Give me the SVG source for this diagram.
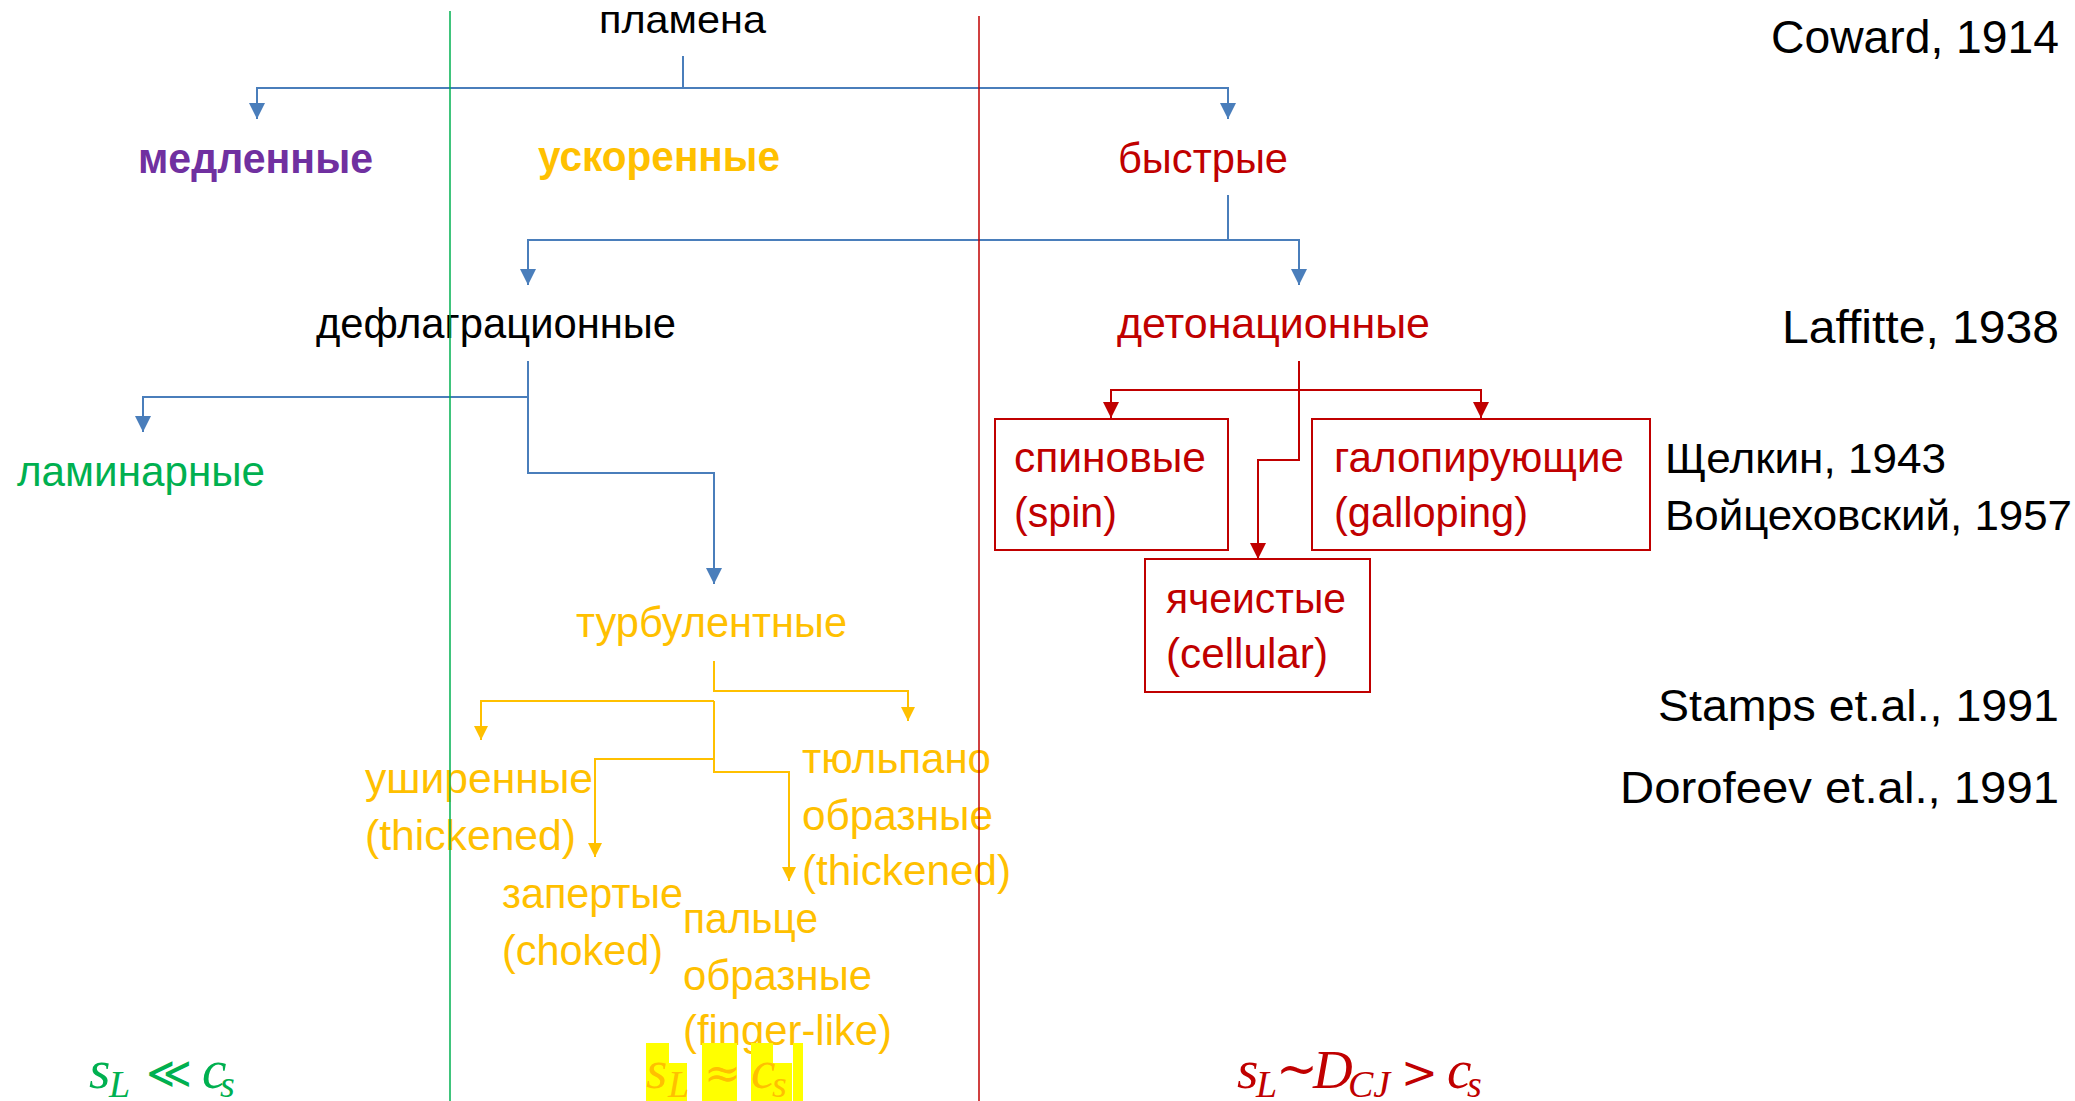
<svg xmlns="http://www.w3.org/2000/svg" width="2075" height="1101" viewBox="0 0 2075 1101">
<defs>
<style>
.t{font-family:"Liberation Sans",Arial,sans-serif;font-size:42px}
.b{font-weight:bold}
.blk{fill:#000}
.red{fill:#C00000}
.gold{fill:#FFC000}
.grn{fill:#00B050}
.pur{fill:#7030A0}
.m{font-family:"Liberation Serif","DejaVu Serif",serif;font-style:italic;font-size:55px}
.sub{font-size:38px}
.op{font-family:"DejaVu Serif","Liberation Serif",serif;font-style:normal;font-size:44px}
.cb{fill:none;stroke:#4A7EBB;stroke-width:2}
.cr{fill:none;stroke:#C00000;stroke-width:2}
.cg{fill:none;stroke:#FFC000;stroke-width:2}
.box{fill:none;stroke:#C00000;stroke-width:2}
</style>
<marker id="ab" viewBox="0 0 16 16" refX="16" refY="8" markerWidth="16" markerHeight="16" markerUnits="userSpaceOnUse" orient="auto"><path d="M0,0 L16,8 L0,16 Z" fill="#4A7EBB"/></marker>
<marker id="ar" viewBox="0 0 16 16" refX="16" refY="8" markerWidth="16" markerHeight="16" markerUnits="userSpaceOnUse" orient="auto"><path d="M0,0 L16,8 L0,16 Z" fill="#C00000"/></marker>
<marker id="ag" viewBox="0 0 16 16" refX="16" refY="8" markerWidth="14" markerHeight="14" markerUnits="userSpaceOnUse" orient="auto"><path d="M0,0 L16,8 L0,16 Z" fill="#FFC000"/></marker>
</defs>
<rect width="2075" height="1101" fill="#fff"/>

<g id="connectors">
<path class="cb" d="M683,56 V88 H257 V119" marker-end="url(#ab)"/>
<path class="cb" d="M683,88 H1228 V119" marker-end="url(#ab)"/>
<path class="cb" d="M1228,195 V240 H528 V285" marker-end="url(#ab)"/>
<path class="cb" d="M1228,240 H1299 V285" marker-end="url(#ab)"/>
<path class="cb" d="M528,361 V397 H143 V432" marker-end="url(#ab)"/>
<path class="cb" d="M528,397 V473 H714 V584" marker-end="url(#ab)"/>
<path class="cr" d="M1299,361 V390 H1111 V418" marker-end="url(#ar)"/>
<path class="cr" d="M1299,390 H1481 V418" marker-end="url(#ar)"/>
<path class="cr" d="M1299,390 V460 H1258 V559" marker-end="url(#ar)"/>
<path class="cg" d="M714,661 V691 H908 V721" marker-end="url(#ag)"/>
<path class="cg" d="M714,701 H481 V740" marker-end="url(#ag)"/>
<path class="cg" d="M714,701 V759 H595 V857" marker-end="url(#ag)"/>
<path class="cg" d="M714,759 V772 H789 V881" marker-end="url(#ag)"/>
</g>

<g id="plamena"><text class="t blk" x="599" y="33" style="font-size:39px" textLength="167" lengthAdjust="spacingAndGlyphs">пламена</text></g>
<g id="medlennye"><text class="t b pur" x="138" y="173" style="font-size:43px" textLength="235" lengthAdjust="spacingAndGlyphs">медленные</text></g>
<g id="uskorennye"><text class="t b gold" x="538" y="171" style="font-size:43px" textLength="242" lengthAdjust="spacingAndGlyphs">ускоренные</text></g>
<g id="bystrye"><text class="t red" x="1118" y="173" textLength="170" lengthAdjust="spacingAndGlyphs">быстрые</text></g>
<g id="deflagr"><text class="t blk" x="316" y="338" textLength="360" lengthAdjust="spacingAndGlyphs">дефлаграционные</text></g>
<g id="deton"><text class="t red" x="1117" y="338" textLength="313" lengthAdjust="spacingAndGlyphs">детонационные</text></g>
<g id="laminar"><text class="t grn" x="17" y="486" textLength="248" lengthAdjust="spacingAndGlyphs">ламинарные</text></g>
<g id="turbul"><text class="t gold" x="576" y="637" textLength="271" lengthAdjust="spacingAndGlyphs">турбулентные</text></g>
<g id="ushir">
<text class="t gold" x="365" y="793" textLength="228" lengthAdjust="spacingAndGlyphs">уширенные</text>
<text class="t gold" x="365" y="850" textLength="211" lengthAdjust="spacingAndGlyphs">(thickened)</text>
</g>
<g id="tulpan">
<text class="t gold" x="802" y="773" textLength="189" lengthAdjust="spacingAndGlyphs">тюльпано</text>
<text class="t gold" x="802" y="830" textLength="191" lengthAdjust="spacingAndGlyphs">образные</text>
<text class="t gold" x="802" y="885" textLength="209" lengthAdjust="spacingAndGlyphs">(thickened)</text>
</g>
<g id="zapert">
<text class="t gold" x="502" y="908" textLength="181" lengthAdjust="spacingAndGlyphs">запертые</text>
<text class="t gold" x="502" y="965" textLength="161" lengthAdjust="spacingAndGlyphs">(choked)</text>
</g>
<g id="palce">
<text class="t gold" x="683" y="933" textLength="135" lengthAdjust="spacingAndGlyphs">пальце</text>
<text class="t gold" x="683" y="990" textLength="189" lengthAdjust="spacingAndGlyphs">образные</text>
<text class="t gold" x="683" y="1045" textLength="209" lengthAdjust="spacingAndGlyphs">(finger-like)</text>
</g>
<g id="spin">
<rect class="box" x="995" y="419" width="233" height="131"/>
<text class="t red" x="1014" y="472" textLength="192" lengthAdjust="spacingAndGlyphs">спиновые</text>
<text class="t red" x="1014" y="527" textLength="103" lengthAdjust="spacingAndGlyphs">(spin)</text>
</g>
<g id="gallop">
<rect class="box" x="1312" y="419" width="338" height="131"/>
<text class="t red" x="1334" y="472" textLength="290" lengthAdjust="spacingAndGlyphs">галопирующие</text>
<text class="t red" x="1334" y="527" textLength="194" lengthAdjust="spacingAndGlyphs">(galloping)</text>
</g>
<g id="cellular">
<rect class="box" x="1145" y="559" width="225" height="133"/>
<text class="t red" x="1166" y="613" textLength="180" lengthAdjust="spacingAndGlyphs">ячеистые</text>
<text class="t red" x="1166" y="668" textLength="162" lengthAdjust="spacingAndGlyphs">(cellular)</text>
</g>

<g id="refs">
<text class="t blk" x="1771" y="53" style="font-size:46px" textLength="288" lengthAdjust="spacingAndGlyphs">Coward, 1914</text>
<text class="t blk" x="1782" y="343" style="font-size:46px" textLength="277" lengthAdjust="spacingAndGlyphs">Laffitte, 1938</text>
<text class="t blk" x="1665" y="473" textLength="281" lengthAdjust="spacingAndGlyphs">Щелкин, 1943</text>
<text class="t blk" x="1665" y="530" textLength="407" lengthAdjust="spacingAndGlyphs">Войцеховский, 1957</text>
<text class="t blk" x="1658" y="721" style="font-size:44px" textLength="401" lengthAdjust="spacingAndGlyphs">Stamps et.al., 1991</text>
<text class="t blk" x="1620" y="803" style="font-size:44px" textLength="439" lengthAdjust="spacingAndGlyphs">Dorofeev et.al., 1991</text>
</g>

<g id="math-slow">
<text class="m grn" y="1088"><tspan x="89">s</tspan><tspan class="sub" x="109" y="1097">L</tspan><tspan class="op" x="146" y="1088">≪</tspan><tspan x="202" y="1088">c</tspan><tspan class="sub" x="220" y="1097">s</tspan></text>
</g>
<g id="math-acc">
<g fill="#FFFF00">
<rect x="646" y="1043" width="23" height="58"/>
<rect x="669" y="1063" width="18" height="38"/>
<rect x="702" y="1043" width="35" height="58"/>
<rect x="751" y="1043" width="22" height="58"/>
<rect x="773" y="1063" width="19" height="38"/>
<rect x="793" y="1043" width="10" height="58"/>
</g>
<text class="m gold" y="1088"><tspan x="646">s</tspan><tspan class="sub" x="668" y="1097">L</tspan><tspan class="op" x="704" y="1088">≈</tspan><tspan x="751" y="1088">c</tspan><tspan class="sub" x="772" y="1097">s</tspan></text>
</g>
<g id="math-fast">
<text class="m red" y="1088"><tspan x="1237">s</tspan><tspan class="sub" x="1256" y="1097">L</tspan><tspan class="op" x="1276" y="1086" style="font-size:50px">~</tspan><tspan x="1313" y="1088">D</tspan><tspan class="sub" x="1348" y="1097">CJ</tspan><tspan class="op" x="1401" y="1088">&gt;</tspan><tspan x="1447" y="1088">c</tspan><tspan class="sub" x="1467" y="1097">s</tspan></text>
</g>

<g id="dividers">
<line x1="450" y1="11" x2="450" y2="1101" stroke="#00B050" stroke-width="1.5"/>
<line x1="979" y1="16" x2="979" y2="1101" stroke="#C00000" stroke-width="1.5"/>
</g>
</svg>
